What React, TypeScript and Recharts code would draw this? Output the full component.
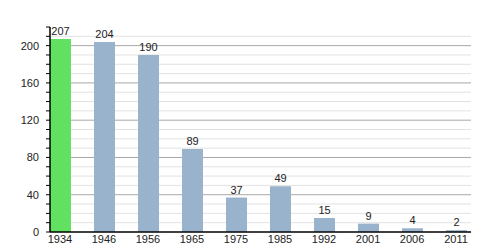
import { Bar, BarChart, CartesianGrid, Cell, LabelList, XAxis, YAxis } from "recharts";

const years = ["1934", "1946", "1956", "1965", "1975", "1985", "1992", "2001", "2006", "2011"];
const population = [207, 204, 190, 89, 37, 49, 15, 9, 4, 2];
const yTicks = [0, 10, 20, 30, 40, 50, 60, 70, 80, 90, 100, 110, 120, 130, 140, 150, 160, 170, 180, 190, 200, 210, 220];
const minorLines = [10, 20, 30, 50, 60, 70, 90, 100, 110, 130, 140, 150, 170, 180, 190, 210];
const majorLines = [40, 80, 120, 160, 200];

const data = years.map((year, i) => ({ idx: i, year, value: population[i] }));

const font = { fontFamily: "Liberation Sans, Arial, sans-serif", fontSize: 11, fill: "#222" };

export default function App() {
  return (
    <div style={{ position: "absolute", left: 0, top: 0, width: 500, height: 250, background: "#fff" }}>
      <BarChart width={500} height={250} data={data} margin={{ top: 27, right: 29, bottom: 0, left: 0 }}>
        <CartesianGrid vertical={false} horizontalValues={minorLines} stroke="#e2e2e2" />
        <CartesianGrid vertical={false} horizontalValues={majorLines} stroke="#a8a8a8" />
        <XAxis
          dataKey="idx"
          type="number"
          domain={[-0.227, 9.34]}
          ticks={[0, 1, 2, 3, 4, 5, 6, 7, 8, 9]}
          tickFormatter={(v: number) => years[v]}
          interval={0}
          height={18}
          tick={font}
          tickLine={false}
          tickSize={0}
          tickMargin={3}
          axisLine={{ stroke: "#000", strokeWidth: 1.5 }}
        />
        <YAxis
          type="number"
          domain={[0, 220]}
          ticks={yTicks}
          interval={0}
          width={50}
          tick={font}
          tickFormatter={(v: number) => (v % 40 === 0 && v <= 200 ? String(v) : "")}
          tickSize={4}
          tickMargin={7}
          tickLine={{ stroke: "#000" }}
          axisLine={{ stroke: "#000", strokeWidth: 1.5 }}
        />
        <Bar dataKey="value" barSize={21} isAnimationActive={false}>
          {data.map((d) => (
            <Cell key={d.year} fill={d.idx === 0 ? "#62e062" : "#99b3cd"} />
          ))}
          <LabelList dataKey="value" position="top" offset={4} style={font} />
        </Bar>
      </BarChart>
    </div>
  );
}
